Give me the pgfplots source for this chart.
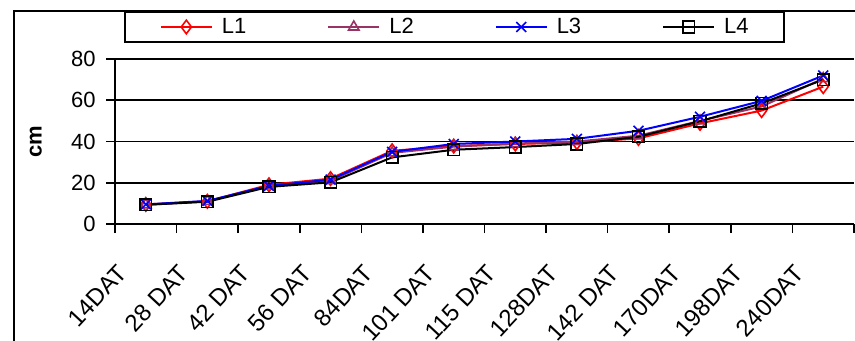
\documentclass[border=0pt]{standalone}
\usepackage{fontspec}
\setmainfont{Liberation Sans}
\usepackage{pgfplots}
\pgfplotsset{compat=1.18}
\definecolor{plum}{RGB}{153,51,102}

\begin{document}
\begin{tikzpicture}
% page area and outer chart frame
\useasboundingbox (0,0) rectangle (427.5pt,-170.5pt);
\clip (0,0) rectangle (427.5pt,-170.5pt);
\draw[line width=1pt] (7pt,-5.5pt) rectangle (440pt,-180pt);
\begin{axis}[
  at={(57.5pt,-112pt)}, anchor=south west,
  scale only axis, width=369.5pt, height=82.5pt,
  xmin=0, xmax=12, ymin=0, ymax=80,
  axis lines*=left,
  axis line style={line width=0.8pt},
  tick align=outside,
  major tick length=4.5pt,
  tick style={black, line width=0.8pt},
  ytick={0,20,40,60,80},
  ymajorgrids, grid style={black, line width=0.8pt},
  xtick={0,...,12},
  xticklabels={14DAT,28 DAT,42 DAT,56 DAT,84DAT,101 DAT,115 DAT,128DAT,142 DAT,170DAT,198DAT,240DAT,{}},
  font=\fontsize{11}{13}\selectfont,
  /pgf/number format/assume math mode=true,
  xticklabel style={xshift=0.5pt, yshift=-15pt, rotate=47, anchor=north east, inner sep=0pt,
    font=\fontsize{12}{14}\selectfont},
  yticklabel style={inner sep=0pt, xshift=-5pt},
  ylabel={\textbf{cm}},
  ylabel style={at={(axis description cs:-0.107,0.5)}, anchor=center, rotate=0},
  legend columns=4,
  legend style={
    at={(axis description cs:0.0122,1.291)}, anchor=north west,
    draw=black, line width=0.8pt, inner xsep=17.5pt, inner ysep=3pt,
    nodes={inner sep=0pt},
    /tikz/every odd column/.append style={column sep=4.5pt},
    /tikz/every even column/.append style={column sep=40.5pt},
  },
  legend image code/.code={
    \draw[mark repeat=2,mark phase=2] plot coordinates {(0pt,0pt) (12.75pt,0pt) (25.5pt,0pt)};
  },
  every axis plot/.append style={line width=1pt, mark options={solid, line width=0.8pt}},
]
\addplot[red, mark=diamond, mark size=3.4pt] coordinates {
  (0.5,9.5) (1.5,11) (2.5,19) (3.5,22) (4.5,35.5) (5.5,37.8)
  (6.5,38.8) (7.5,39.5) (8.5,41.5) (9.5,48.8) (10.5,55) (11.5,66.6)};
\addlegendentry{L1}
\addplot[plum, mark=triangle, mark size=3pt] coordinates {
  (0.5,9.3) (1.5,11) (2.5,18.5) (3.5,21) (4.5,34.5) (5.5,37.5)
  (6.5,39) (7.5,40) (8.5,42.8) (9.5,50) (10.5,57) (11.5,70.5)};
\addlegendentry{L2}
\addplot[blue, mark=x, mark size=3.5pt] coordinates {
  (0.5,9.5) (1.5,11.2) (2.5,18.5) (3.5,21.5) (4.5,35) (5.5,38.8)
  (6.5,40) (7.5,41.3) (8.5,45.2) (9.5,52) (10.5,59.7) (11.5,72)};
\addlegendentry{L3}
\addplot[black, mark=square, mark size=2.9pt] coordinates {
  (0.5,9.3) (1.5,10.8) (2.5,18) (3.5,20.2) (4.5,32.3) (5.5,36)
  (6.5,37.3) (7.5,38.8) (8.5,42.3) (9.5,49.8) (10.5,58.5) (11.5,70)};
\addlegendentry{L4}
\end{axis}
\end{tikzpicture}
\end{document}
